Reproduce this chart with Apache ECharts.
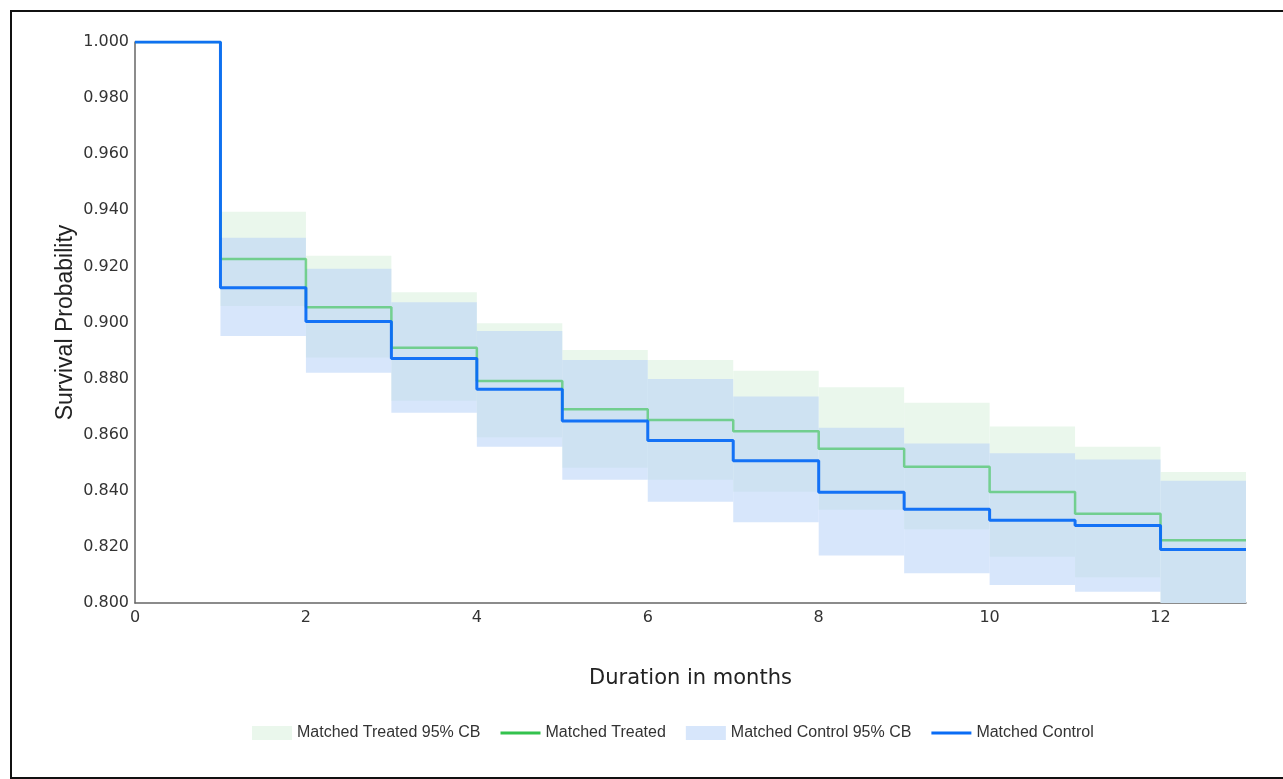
<!DOCTYPE html>
<html>
<head>
<meta charset="utf-8">
<title>Survival</title>
<script src="https://cdn.jsdelivr.net/npm/echarts@6/dist/echarts.min.js"></script>
<style>
    html, body { margin: 0; padding: 0; background: #fff; overflow: hidden; }
    #main { width: 1283px; height: 779px; }
    #frame { position: absolute; left: 10px; top: 10px; width: 1300px; height: 765px; border: 2px solid #111; pointer-events: none; }
</style>
</head>
<body>
<div id="main"></div>
<div id="frame"></div>
<script>
// month index: value holds for [month, month+1)
var months = [0, 1, 2, 3, 4, 5, 6, 7, 8, 9, 10, 11, 12];
var treated = [1.000, 0.9226, 0.9054, 0.8910, 0.8791, 0.8691, 0.8652, 0.8612, 0.8550, 0.8486, 0.8396, 0.8318, 0.8224];
var control = [1.000, 0.9124, 0.9004, 0.8872, 0.8762, 0.8649, 0.8579, 0.8507, 0.8395, 0.8334, 0.8295, 0.8276, 0.8191];
// 95% bands (month 0 has no band)
var treatedLow = [1.000, 0.9059, 0.8875, 0.8721, 0.8591, 0.8482, 0.8439, 0.8397, 0.8332, 0.8263, 0.8165, 0.8092, 0.7950];
var treatedUp  = [1.000, 0.9395, 0.9238, 0.9108, 0.8997, 0.8902, 0.8866, 0.8828, 0.8769, 0.8714, 0.8629, 0.8557, 0.8467];
var controlLow = [1.000, 0.8952, 0.8821, 0.8678, 0.8557, 0.8439, 0.8361, 0.8288, 0.8169, 0.8106, 0.8064, 0.8040, 0.7900];
var controlUp  = [1.000, 0.9302, 0.9192, 0.9072, 0.8970, 0.8866, 0.8799, 0.8736, 0.8625, 0.8569, 0.8534, 0.8512, 0.8436];
var yTicks = [0.8, 1.0, 0.02];
var xMax = 13;

function stepData(vals) {
    var d = [];
    for (var i = 0; i < months.length; i++) d.push([months[i], vals[i]]);
    d.push([xMax, vals[vals.length - 1]]);
    return d;
}
function bandData(low, up) {
    var d = [];
    for (var i = 0; i < months.length; i++) {
        if (low[i] === up[i]) continue;
        var x1 = i + 1 < months.length ? months[i + 1] : xMax;
        d.push([months[i], x1, low[i], up[i]]);
    }
    return d;
}
function renderBand(params, api) {
    var p0 = api.coord([api.value(0), api.value(3)]);
    var p1 = api.coord([api.value(1), api.value(2)]);
    var shape = echarts.graphic.clipRectByRect(
        { x: p0[0], y: p0[1], width: p1[0] - p0[0], height: p1[1] - p0[1] },
        { x: params.coordSys.x, y: params.coordSys.y, width: params.coordSys.width, height: params.coordSys.height }
    );
    return shape && { type: 'rect', shape: shape, style: api.style() };
}

var lineIcon = 'path://M0,0 L40,0 L40,3 L0,3 Z';

var chart = echarts.init(document.getElementById('main'));
var option = {
    animation: false,
    grid: { left: 135, right: 37, top: 42, bottom: 176 },
    legend: {
        left: 247,
        top: 720,
        itemWidth: 40,
        itemHeight: 14,
        itemGap: 20,
        textStyle: { fontFamily: 'Liberation Sans', fontSize: 16, color: '#333' },
        data: [
            { name: 'Matched Treated 95% CB', icon: 'rect' },
            { name: 'Matched Treated', icon: lineIcon },
            { name: 'Matched Control 95% CB', icon: 'rect' },
            { name: 'Matched Control', icon: lineIcon }
        ]
    },
    xAxis: {
        type: 'value',
        min: 0,
        max: xMax,
        interval: 2,
        name: 'Duration in months',
        nameLocation: 'middle',
        nameGap: 65,
        nameTextStyle: { fontFamily: 'DejaVu Sans', fontSize: 21, color: '#222' },
        splitLine: { show: false },
        axisTick: { show: false },
        axisLine: { lineStyle: { color: '#666', width: 1.5 } },
        axisLabel: {
            margin: 7,
            fontFamily: 'DejaVu Sans', fontSize: 16, color: '#333',
            showMaxLabel: false
        }
    },
    yAxis: {
        type: 'value',
        min: yTicks[0],
        max: yTicks[1],
        interval: yTicks[2],
        name: 'Survival Probability',
        nameLocation: 'middle',
        nameGap: 58,
        nameMoveOverlap: false,
        nameTextStyle: { fontFamily: 'Liberation Sans', fontSize: 23, color: '#222' },
        splitLine: { show: false },
        axisTick: { show: false },
        axisLine: { show: true, lineStyle: { color: '#666', width: 1.5 } },
        axisLabel: {
            margin: 6,
            fontFamily: 'DejaVu Sans', fontSize: 16, color: '#333',
            formatter: function (v) { return v.toFixed(3); }
        }
    },
    series: [
        {
            name: 'Matched Treated 95% CB',
            type: 'custom',
            renderItem: renderBand,
            encode: { x: [0, 1], y: [2, 3] },
            itemStyle: { color: '#eaf7ec' },
            data: bandData(treatedLow, treatedUp),
            z: 1
        },
        {
            name: 'Matched Control 95% CB',
            type: 'custom',
            renderItem: renderBand,
            encode: { x: [0, 1], y: [2, 3] },
            itemStyle: { color: 'rgba(182,210,248,0.55)' },
            data: bandData(controlLow, controlUp),
            z: 2
        },
        {
            name: 'Matched Treated',
            type: 'line',
            step: 'end',
            symbol: 'none',
            itemStyle: { color: '#33c24d' },
            lineStyle: { color: '#33c24d', width: 2.5, opacity: 0.6 },
            data: stepData(treated),
            z: 3
        },
        {
            name: 'Matched Control',
            type: 'line',
            step: 'end',
            symbol: 'none',
            itemStyle: { color: '#0a6cf5' },
            lineStyle: { color: '#0a6cf5', width: 3, opacity: 0.95 },
            data: stepData(control),
            z: 4
        }
    ]
};
chart.setOption(option);
</script>
</body>
</html>
